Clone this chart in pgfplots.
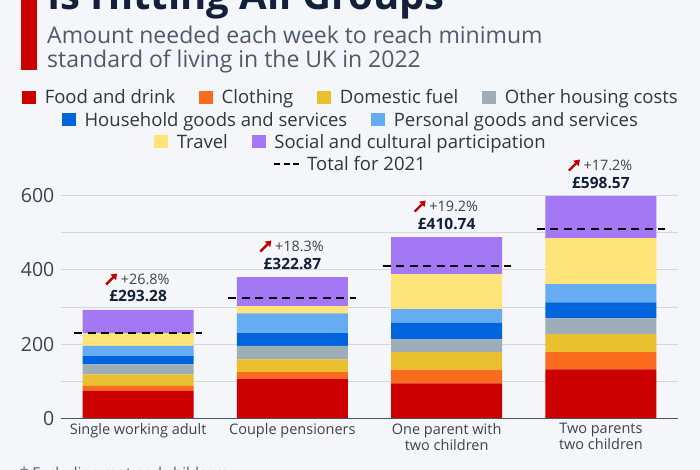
\documentclass[border=0pt]{standalone}
\usepackage{pgfplots}
\pgfplotsset{compat=1.18}
\usepackage{fontspec}
\setmainfont{Open Sans}
\usetikzlibrary{arrows.meta}
\definecolor{bg}{HTML}{F4F6F9}
\definecolor{titlec}{HTML}{13203A}
\definecolor{subc}{HTML}{4D5A6A}
\definecolor{txt}{HTML}{2F3640}
\definecolor{tick}{HTML}{3B4350}
\definecolor{gridc}{HTML}{D3D8DE}
\definecolor{axisc}{HTML}{4A5360}
\definecolor{redbar}{HTML}{CC0000}
\definecolor{arrowred}{HTML}{C00000}
\definecolor{cFood}{HTML}{CC0000}
\definecolor{cCloth}{HTML}{FA6B1E}
\definecolor{cFuel}{HTML}{E8C030}
\definecolor{cHous}{HTML}{9DAEB8}
\definecolor{cHH}{HTML}{0064DC}
\definecolor{cPers}{HTML}{66ACF2}
\definecolor{cTrav}{HTML}{FFE47A}
\definecolor{cSoc}{HTML}{A478F5}
\newcommand{\sq}[1]{{\color{#1}\rule{14pt}{13.3pt}}\hspace{8.5pt}}
\begin{document}
\begin{tikzpicture}[x=1pt,y=1pt]
\useasboundingbox (0,0) rectangle (700,-470);
\fill[bg] (0,0) rectangle (700,-470);
% title fragment and bar
\fill[redbar] (21,0) rectangle (36.5,-70);
\node[anchor=base west, inner sep=0, text=titlec, font=\fontsize{40}{44}\selectfont\bfseries] at (47,-10) {Is Hitting All Groups};
\node[anchor=base west, inner sep=0, text=subc, font=\fontsize{23}{30}\selectfont] at (47,-43.5) {Amount needed each week to reach minimum};
\node[anchor=base west, inner sep=0, text=subc, font=\fontsize{23}{30}\selectfont] at (47,-67.5) {standard of living in the UK in 2022};
% legend
\begin{scope}[every node/.style={anchor=base, inner sep=0, text=txt, font=\fontsize{18.5}{20}\selectfont}]
\node at (350,-104) {\sq{cFood}Food and drink\hspace{24pt}\sq{cCloth}Clothing\hspace{24pt}\sq{cFuel}Domestic fuel\hspace{24pt}\sq{cHous}Other housing costs};
\node at (350,-126.3) {\sq{cHH}Household goods and services\hspace{24pt}\sq{cPers}Personal goods and services};
\node at (350,-148.5) {\sq{cTrav}Travel\hspace{24pt}\sq{cSoc}Social and cultural participation};
\node at (350,-170.7) {{\color{black}\rule[5.5pt]{6pt}{2pt}\hspace{3.5pt}\rule[5.5pt]{6pt}{2pt}\hspace{3.5pt}\rule[5.5pt]{6pt}{2pt}}\hspace{8pt}Total for 2021};
\end{scope}
% footnote
\node[anchor=base west, inner sep=0, text=subc, font=\fontsize{15}{17}\selectfont] at (20,-478) {* Excluding rent and childcare};

\begin{axis}[at={(61pt,-418.3pt)}, anchor=south west, scale only axis,
  width=617pt, height=222.6pt,
  xmin=-0.5, xmax=3.5, ymin=0, ymax=600,
  ybar stacked, bar width=0.72,
  axis line style={draw=none},
  major tick length=0pt, minor tick length=0pt,
  ytick={0,200,400,600}, minor ytick={100,300,500},
  ymajorgrids, yminorgrids,
  major grid style={gridc, line width=1pt},
  minor grid style={gridc, line width=1pt},
  xtick={0,1,2,3},
  xticklabels={Single working adult, Couple pensioners, {One parent with\\two children}, {Two parents\\two children}},
  /pgf/number format/assume math mode=true,
  yticklabel style={anchor=east, inner sep=0pt, xshift=-6.5pt, text=tick, font=\fontsize{19.5}{22}\selectfont},
  xticklabel style={anchor=north, inner sep=0pt, yshift=-4.5pt, align=center, text=tick, font=\fontsize{14.5}{16.5}\selectfont},
  clip=false,
]
\addplot[fill=cFood, draw=none] coordinates {(0,74.5) (1,106.9) (2,94.3) (3,132.0)};
\addplot[fill=cCloth, draw=none] coordinates {(0,12.6) (1,17.9) (2,36.8) (3,46.7)};
\addplot[fill=cFuel, draw=none] coordinates {(0,31.4) (1,34.2) (2,47.6) (3,48.5)};
\addplot[fill=cHous, draw=none] coordinates {(0,27.0) (1,35.9) (2,34.1) (3,42.2)};
\addplot[fill=cHH, draw=none] coordinates {(0,22.4) (1,35.0) (2,44.9) (3,43.1)};
\addplot[fill=cPers, draw=none] coordinates {(0,27.0) (1,53.0) (2,36.8) (3,49.4)};
\addplot[fill=cTrav, draw=none] coordinates {(0,34.1) (1,19.7) (2,94.3) (3,123.9)};
\addplot[fill=cSoc, draw=none] coordinates {(0,63.0) (1,78.2) (2,99.7) (3,113.2)};
\end{axis}

\begin{axis}[at={(61pt,-418.3pt)}, anchor=south west, scale only axis,
  width=617pt, height=222.6pt,
  xmin=-0.5, xmax=3.5, ymin=0, ymax=600,
  hide axis, clip=false]
\addplot[axisc, line width=1.3pt] coordinates {(-0.5,0) (3.5,0)};
\addplot[black, line width=2pt, dash pattern=on 8pt off 5.5pt] coordinates {(-0.415,231) (0.415,231)};
\addplot[black, line width=2pt, dash pattern=on 8pt off 5.5pt] coordinates {(0.585,323) (1.415,323)};
\addplot[black, line width=2pt, dash pattern=on 8pt off 5.5pt] coordinates {(1.585,411) (2.415,411)};
\addplot[black, line width=2pt, dash pattern=on 8pt off 5.5pt] coordinates {(2.585,510) (3.415,510)};
% annotations
\foreach \xx/\top/\pct/\val in {0/292/26.8/293.28, 1/380.8/18.3/322.87, 2/488.5/19.2/410.74, 3/599/17.2/598.57}{
  \edef\temp{\noexpand\node[inner sep=0, text=titlec, font=\noexpand\fontsize{15.5}{17}\noexpand\selectfont\noexpand\bfseries, yshift=13.5pt] at (axis cs:\xx,\top) {£\val};
  \noexpand\node[inner sep=0, text=tick, font=\noexpand\fontsize{14.4}{16}\noexpand\selectfont, xshift=7pt, yshift=31pt] at (axis cs:\xx,\top) {+\pct\noexpand\%};
  \noexpand\draw[arrowred, line width=2.4pt, -{Triangle[length=5.5pt,width=7.5pt]}] ([xshift=-32pt,yshift=25.5pt]axis cs:\xx,\top) -- ([xshift=-21pt,yshift=36.5pt]axis cs:\xx,\top);}
  \temp
}
\end{axis}
\end{tikzpicture}
\end{document}
